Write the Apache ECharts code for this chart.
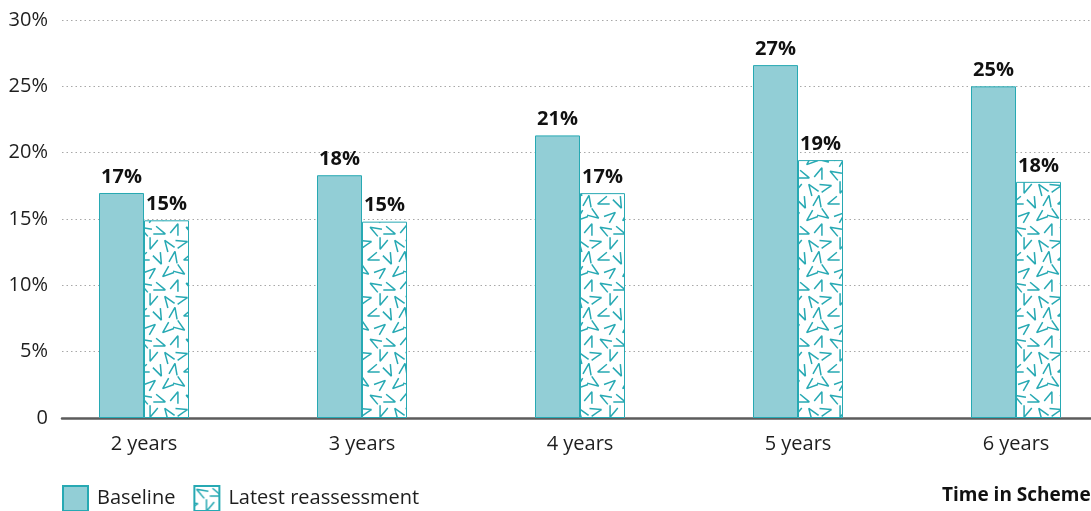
<!DOCTYPE html>
<html>
<head>
<meta charset="utf-8">
<script src="https://cdn.jsdelivr.net/npm/echarts@6/dist/echarts.min.js"></script>
<style>
  html, body { margin: 0; padding: 0; overflow: hidden; background: #fff; }
  #chart { width: 1125px; height: 511px; }
</style>
</head>
<body>
<div id="chart"></div>
<script>
// Share of members by time in scheme
const categories = ['2 years', '3 years', '4 years', '5 years', '6 years'];
const baselineValues = [16.96, 18.3, 21.3, 26.6, 25.0];
const latestValues = [14.9, 14.8, 16.95, 19.44, 17.8];
const yTickValues = [0, 5, 10, 15, 20, 25, 30];
const seriesNames = ['Baseline', 'Latest reassessment'];

const TEAL = '#27a9b3';
const FILL = '#92ced6';
const TEXT = '#1e1e1e';
const FONT = '"Open Sans", "Noto Sans", sans-serif';

// Tile of scattered chevrons used to fill the reassessment bars
function chevronTile() {
  const w = 46, h = 56;
  const c = document.createElement('canvas');
  c.width = w; c.height = h;
  const ctx = c.getContext('2d');
  ctx.fillStyle = '#fff';
  ctx.fillRect(0, 0, w, h);
  ctx.strokeStyle = TEAL;
  ctx.lineWidth = 1.5;
  ctx.lineCap = 'butt';
  ctx.lineJoin = 'bevel';
  // chevron centre x, centre y, opening direction (deg)
  const marks = [
    [7, 6, 30], [22, 8, 200], [38, 5, 110],
    [14, 20, 290], [30, 21, 55], [44, 19, 165],
    [5, 34, 340], [21, 35, 245], [36, 33, 100],
    [13, 48, 140], [29, 49, 320], [42, 47, 215]
  ];
  const len = 12, spread = 20 * Math.PI / 180;
  const draw = (cx, cy, a) => {
    const back = len / 2 * Math.cos(spread);
    const x = cx - back * Math.cos(a), y = cy - back * Math.sin(a);
    ctx.beginPath();
    ctx.moveTo(x + len * Math.cos(a - spread), y + len * Math.sin(a - spread));
    ctx.lineTo(x, y);
    ctx.lineTo(x + len * Math.cos(a + spread), y + len * Math.sin(a + spread));
    ctx.stroke();
  };
  marks.forEach(([x, y, d]) => {
    const a = d * Math.PI / 180;
    // wrapped copies keep the tile seamless when repeated
    for (const dx of [-w, 0, w]) for (const dy of [-h, 0, h]) draw(x + dx, y + dy, a);
  });
  return c;
}

const chart = echarts.init(document.getElementById('chart'), null, { renderer: 'canvas' });

const pctLabel = {
  show: true,
  position: 'top',
  distance: 6,
  formatter: p => Math.round(p.value) + '%',
  fontFamily: FONT,
  fontWeight: 'bold',
  fontSize: 20,
  color: '#111'
};

chart.setOption({
  animation: false,
  textStyle: { fontFamily: FONT },
  grid: [
    { left: 62, right: 0, top: 20, bottom: 93 },
    { left: 35, right: 0, top: 20, bottom: 93 }
  ],
  xAxis: [
    {
      gridIndex: 0, type: 'category', data: categories,
      axisLine: { show: true, lineStyle: { color: '#5c5c5c', width: 2.5 } },
      axisTick: { show: false }, axisLabel: { show: false }
    },
    {
      gridIndex: 1, type: 'category', data: categories,
      axisLine: { show: false }, axisTick: { show: false },
      axisLabel: { fontFamily: FONT, fontSize: 20, color: TEXT, margin: 16 }
    }
  ],
  yAxis: [
    {
      gridIndex: 0, type: 'value', min: yTickValues[0], max: yTickValues[yTickValues.length - 1], interval: 5,
      axisLine: { show: false }, axisTick: { show: false },
      axisLabel: {
        fontFamily: FONT, fontSize: 20, color: TEXT, margin: 14,
        formatter: v => (v === 0 ? '0' : v + '%')
      },
      splitLine: { lineStyle: { color: '#a8a8a8', type: [1.5, 3], width: 1 } }
    },
    {
      gridIndex: 1, type: 'value', min: 0, max: 30, interval: 5, show: false
    }
  ],
  legend: {
    left: 62, top: 485, padding: 0,
    itemWidth: 25, itemHeight: 25, itemGap: 18,
    icon: 'rect',
    textStyle: { fontFamily: FONT, fontSize: 20, color: TEXT, padding: [0, 0, 0, 4] },
    data: seriesNames
  },
  graphic: [{
    type: 'text', left: 942, top: 486,
    style: { text: 'Time in Scheme', fontFamily: FONT, fontWeight: 'bold', fontSize: 19, fill: '#111' }
  }],
  series: [
    {
      name: seriesNames[0], type: 'bar', xAxisIndex: 1, yAxisIndex: 1,
      data: baselineValues, barWidth: 45, barGap: '0%',
      itemStyle: { color: FILL, borderColor: TEAL, borderWidth: 1 },
      label: pctLabel
    },
    {
      name: seriesNames[1], type: 'bar', xAxisIndex: 1, yAxisIndex: 1,
      data: latestValues, barWidth: 45, barGap: '0%',
      itemStyle: { color: { image: chevronTile(), repeat: 'repeat' }, borderColor: TEAL, borderWidth: 1 },
      label: pctLabel
    }
  ]
});
</script>
</body>
</html>
